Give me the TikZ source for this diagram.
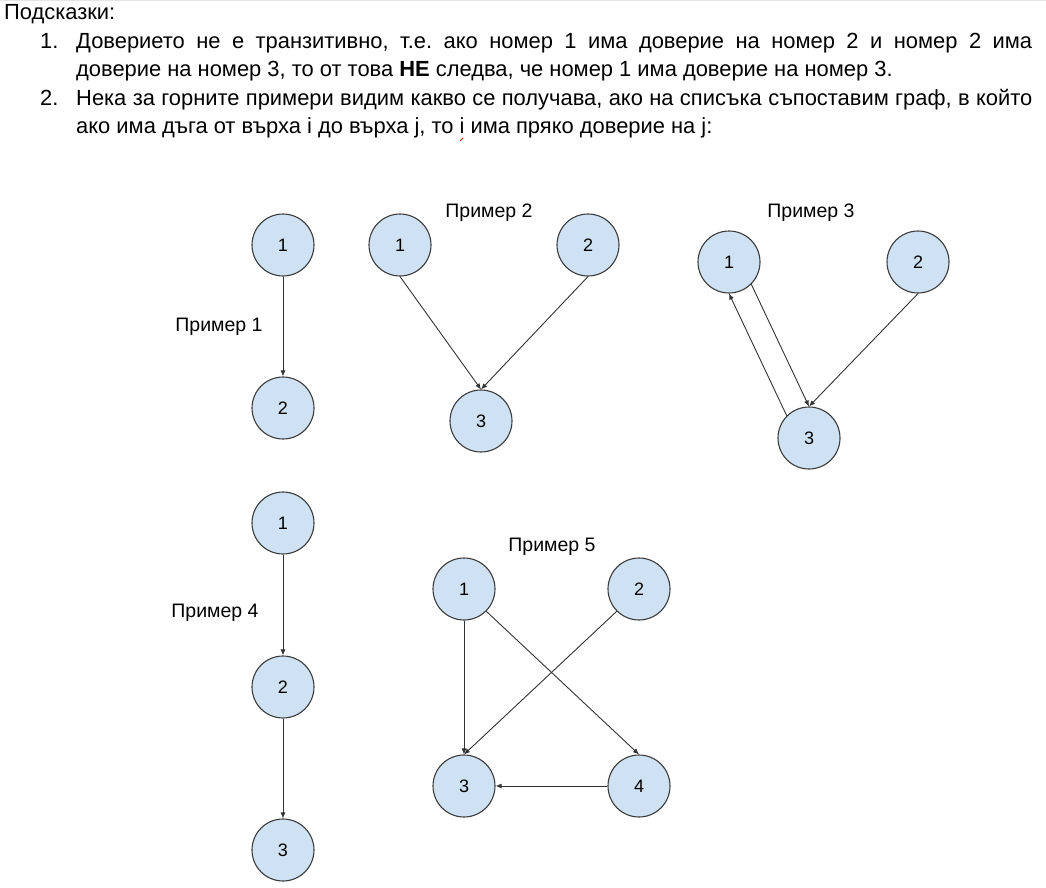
\documentclass[tikz,border=0pt]{standalone}
\usepackage{fontspec}
\setmainfont{Liberation Sans}
\usetikzlibrary{arrows.meta}
\frenchspacing

\definecolor{vertexfill}{HTML}{CFE2F3}
\definecolor{vertexline}{HTML}{3B3B3B}
\definecolor{edgeline}{HTML}{333333}

\begin{document}
\begin{tikzpicture}[x=1pt,y=-1pt,
  vertex/.style={circle,draw=vertexline,fill=vertexfill,line width=1.1pt,
    minimum size=62pt,inner sep=0pt,font=\fontsize{18}{21}\selectfont},
  edge/.style={draw=edgeline,line width=0.9pt,-{Latex[length=6pt,width=5pt]}},
  caption/.style={inner sep=0pt,font=\fontsize{19.5}{23}\selectfont},
  textline/.style={anchor=base west,inner sep=0pt,font=\fontsize{21.9}{26}\selectfont}]

\useasboundingbox (0,0) rectangle (1046,888);
\draw[black!10] (0,0.5) -- (1046,0.5);

%% hints
\node[textline] (hint) at (4,20) {Подсказки:};
\node[textline] (num1) at (40,49) {1.};
\node[textline] (l1) at (76,49) {\makebox[956pt][s]{Доверието не е транзитивно, т.е. ако номер 1 има доверие на номер 2 и номер 2 има}};
\node[textline] (l2) at (76,77) {доверие на номер 3, то от това \textbf{НЕ} следва, че номер 1 има доверие на номер 3.};
\node[textline] (num2) at (40,106) {2.};
\node[textline] (l3) at (76,106) {\makebox[956pt][s]{Нека за горните примери видим какво се получава, ако на списъка съпоставим граф, в който}};
\node[textline] (l4) at (76,134) {ако има дъга от върха i до върха j, то i има пряко доверие на j:};
\draw[red,line width=1pt] (460,141) -- (463,138);

%% example 1
\node[vertex] (a1) at (283,245) {1};
\node[vertex] (a2) at (283,408) {2};
\node[caption] (ca) at (219,327) {Пример 1};
\draw[edge] (a1.south) -- (a2.north);

%% example 2
\node[vertex] (b1) at (400,245) {1};
\node[vertex] (b2) at (588,245) {2};
\node[vertex] (b3) at (481,421) {3};
\node[caption] (cb) at (489,213) {Пример 2};
\draw[edge] (b1.south) -- (b3.north);
\draw[edge] (b2.south) -- (b3.north);

%% example 3
\node[vertex] (c1) at (729,262) {1};
\node[vertex] (c2) at (918,262) {2};
\node[vertex] (c3) at (809,438) {3};
\node[caption] (cc) at (811,213) {Пример 3};
\draw[edge] (c1.south east) -- (c3.north);
\draw[edge] (c3.north west) -- (c1.south);
\draw[edge] (c2.south) -- (c3.north);

%% example 4
\node[vertex] (d1) at (283,523) {1};
\node[vertex] (d2) at (283,687) {2};
\node[vertex] (d3) at (283,850) {3};
\node[caption] (cd) at (215,613) {Пример 4};
\draw[edge] (d1.south) -- (d2.north);
\draw[edge] (d2.south) -- (d3.north);

%% example 5
\node[vertex] (e1) at (464,589) {1};
\node[vertex] (e2) at (639,589) {2};
\node[vertex] (e3) at (464,786) {3};
\node[vertex] (e4) at (639,786) {4};
\node[caption] (ce) at (552,547) {Пример 5};
\draw[edge] (e1.south) -- (e3.north);
\draw[edge] (e1.south east) -- (e4.north);
\draw[edge] (e2.south west) -- (e3.north);
\draw[edge] (e4.west) -- (e3.east);

\end{tikzpicture}
\end{document}
